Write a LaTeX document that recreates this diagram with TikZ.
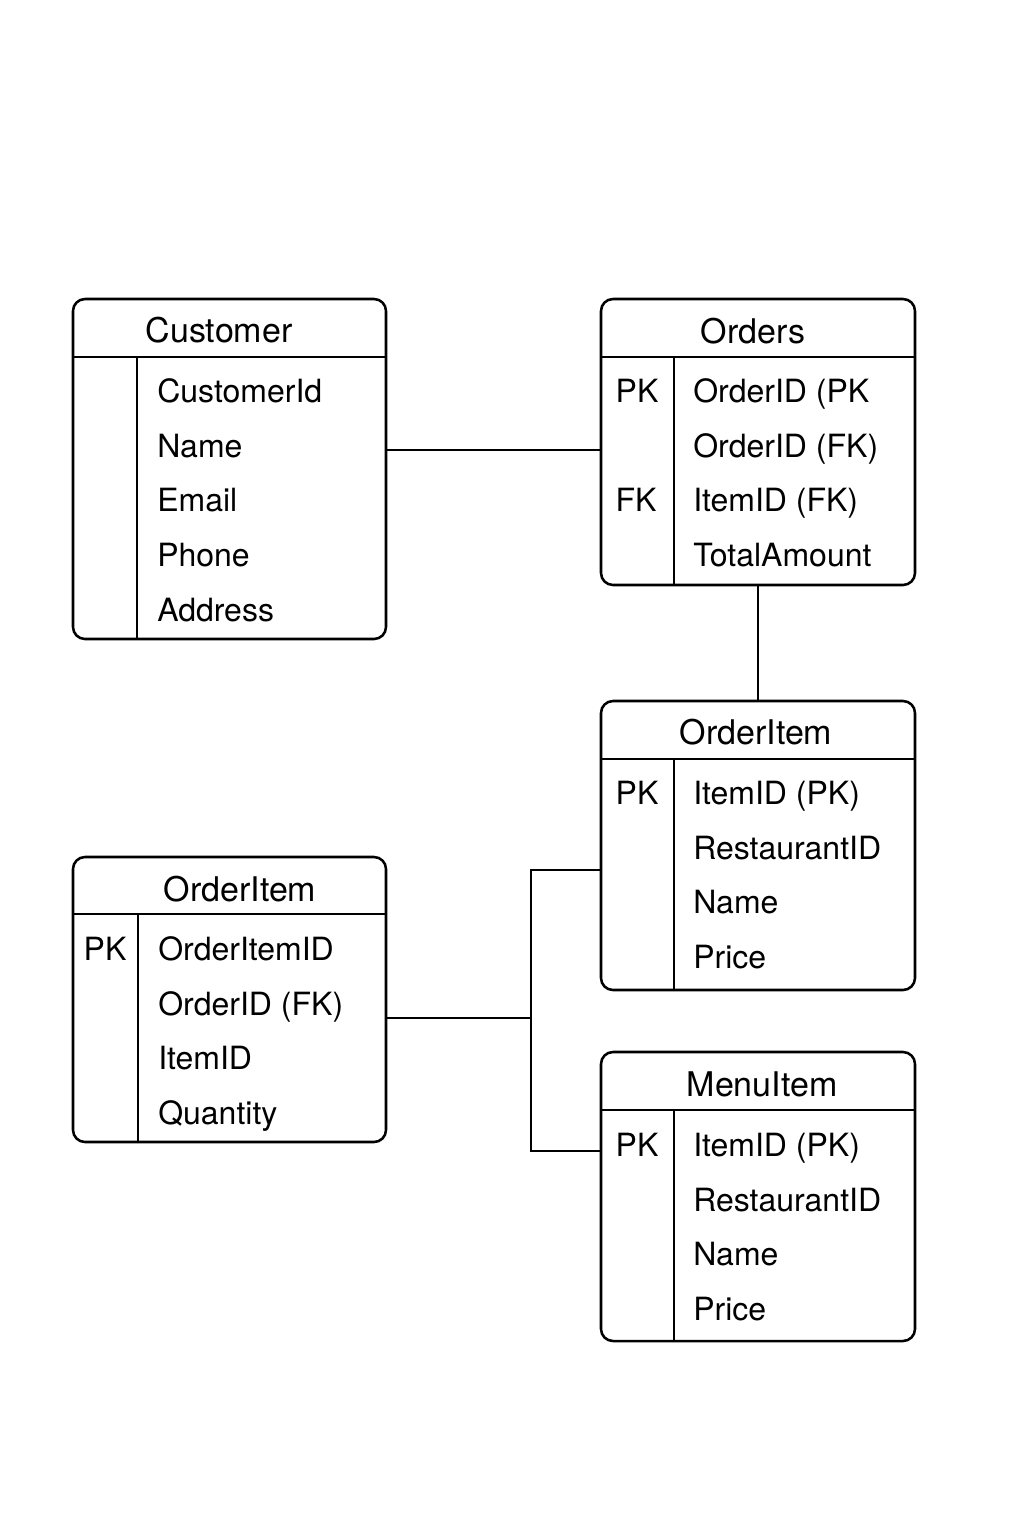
\documentclass[tikz,border=0pt]{standalone}
\usepackage{fontspec}
\setmainfont{TeX Gyre Heros}
\usetikzlibrary{positioning,fit}

\begin{document}
\begin{tikzpicture} [
		x=0.75pt, y=0.75pt,
		every node/.style={inner sep=0pt, node distance=0pt,
			font=\fontsize{24}{28}\selectfont},
		table/.style={draw=black, line width=1.9pt, rounded corners=9pt},
		rule/.style={draw=black, line width=1.9pt},
		link/.style={draw=black, line width=1.9pt},
		title/.style={anchor=center, font=\fontsize{25.5}{29}\selectfont},
		key/.style={anchor=center},
		field/.style={anchor=west, minimum height=40.6pt, text height=17pt, text depth=0pt},
		next/.style={below=0pt of #1.south west, anchor=north west}
	]
	\useasboundingbox[fill=white] (0,0) rectangle (1024,-1536);

	% Customer
	\node (cust) [table, fit={(73,-299) (386,-639)}] {};
	\draw [rule] (73,-357) -- (386,-357);
	\draw [rule] (137,-357) -- (137,-639);
	\node (custt) [title] at (219,-330) {Customer};
	\node (cust1) [field] at (157,-391) {CustomerId};
	\node (cust2) [field, next=cust1] {Name};
	\node (cust3) [field, next=cust2] {Email};
	\node (cust4) [field, next=cust3] {Phone};
	\node (cust5) [field, next=cust4] {Address};

	% Orders
	\node (ord) [table, fit={(601,-299) (915,-585)}] {};
	\draw [rule] (601,-357) -- (915,-357);
	\draw [rule] (674,-357) -- (674,-585);
	\node (ordt) [title] at (753,-331) {Orders};
	\node (ord1) [field] at (693,-391) {OrderID (PK};
	\node (ord2) [field, next=ord1] {OrderID (FK)};
	\node (ord3) [field, next=ord2] {ItemID (FK)};
	\node (ord4) [field, next=ord3] {TotalAmount};
	\node (ordpk) [key] at (637,-391) {PK};
	\node (ordfk) [key] at (636,-500) {FK};

	% OrderItem (right)
	\node (oi) [table, fit={(601,-701) (915,-990)}] {};
	\draw [rule] (601,-759) -- (915,-759);
	\draw [rule] (674,-759) -- (674,-990);
	\node (oit) [title] at (756,-732) {OrderItem};
	\node (oi1) [field] at (693,-793) {ItemID (PK)};
	\node (oi2) [field, next=oi1] {RestaurantID};
	\node (oi3) [field, next=oi2] {Name};
	\node (oi4) [field, next=oi3] {Price};
	\node (oipk) [key] at (637,-793) {PK};

	% OrderItem (left)
	\node (oil) [table, fit={(73,-857) (386,-1142)}] {};
	\draw [rule] (73,-914) -- (386,-914);
	\draw [rule] (138,-914) -- (138,-1142);
	\node (oilt) [title] at (240,-889) {OrderItem};
	\node (oil1) [field] at (158,-949) {OrderItemID};
	\node (oil2) [field, next=oil1] {OrderID (FK)};
	\node (oil3) [field, next=oil2] {ItemID};
	\node (oil4) [field, next=oil3] {Quantity};
	\node (oilpk) [key] at (105,-949) {PK};

	% MenuItem
	\node (mi) [table, fit={(601,-1052) (915,-1341)}] {};
	\draw [rule] (601,-1110) -- (915,-1110);
	\draw [rule] (674,-1110) -- (674,-1341);
	\node (mit) [title] at (762,-1084) {MenuItem};
	\node (mi1) [field] at (693,-1145) {ItemID (PK)};
	\node (mi2) [field, next=mi1] {RestaurantID};
	\node (mi3) [field, next=mi2] {Name};
	\node (mi4) [field, next=mi3] {Price};
	\node (mipk) [key] at (637,-1145) {PK};

	% links
	\coordinate (j1) at (0,-450);
	\coordinate (jt) at (531,-870);
	\coordinate (jm) at (531,-1018);
	\coordinate (jb) at (531,-1151);
	\draw [link] (cust.east |- j1) -- (ord.west |- j1);
	\draw [link] (ord.south) -- (oi.north);
	\draw [link] (oil.east |- jm) -- (jm);
	\draw [link] (oi.west |- jt) -- (jt) -- (jb) -- (mi.west |- jb);

\end{tikzpicture}
\end{document}
